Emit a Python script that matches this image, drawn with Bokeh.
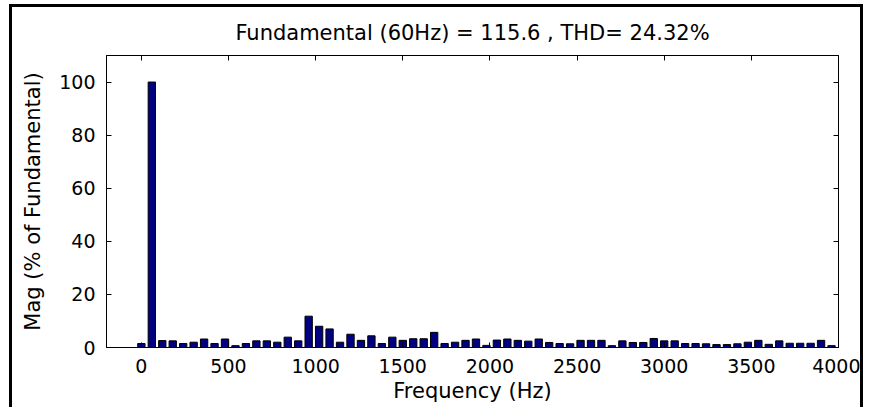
from bokeh.plotting import figure
from bokeh.models import LinearAxis, FixedTicker, Range1d
from bokeh.embed import file_html
from bokeh.resources import INLINE

# Harmonic frequencies (Hz) and magnitudes (% of fundamental)
freq_hz = [0, 60, 120, 180, 240, 300, 360, 420, 480, 540,
           600, 660, 720, 780, 840, 900, 960, 1020, 1080, 1140,
           1200, 1260, 1320, 1380, 1440, 1500, 1560, 1620, 1680, 1740,
           1800, 1860, 1920, 1980, 2040, 2100, 2160, 2220, 2280, 2340,
           2400, 2460, 2520, 2580, 2640, 2700, 2760, 2820, 2880, 2940,
           3000, 3060, 3120, 3180, 3240, 3300, 3360, 3420, 3480, 3540,
           3600, 3660, 3720, 3780, 3840, 3900, 3960]
mag_pct = [1.5, 100, 2.6, 2.5, 1.5, 2.0, 3.2, 1.5, 3.2, 0.7,
           1.5, 2.5, 2.5, 2.0, 3.9, 2.5, 11.8, 8.0, 7.0, 2.0,
           5.0, 2.7, 4.4, 1.5, 3.9, 2.7, 3.3, 3.3, 5.7, 1.5,
           2.0, 2.7, 3.2, 0.8, 2.8, 3.2, 2.7, 2.4, 3.2, 1.9,
           1.5, 1.4, 2.7, 2.7, 2.7, 0.7, 2.5, 1.9, 1.9, 3.4,
           2.5, 2.5, 1.5, 1.5, 1.4, 1.1, 1.1, 1.4, 2.0, 2.7,
           1.2, 2.5, 1.6, 1.6, 1.6, 2.7, 0.7]
x_ticks = [0, 500, 1000, 1500, 2000, 2500, 3000, 3500, 4000]
y_ticks = [0, 20, 40, 60, 80, 100]

title_text = "Fundamental (60Hz) = 115.6 , THD= 24.32%"
FONT = "DejaVu Sans"

p = figure(width=854, height=403, output_backend="svg", toolbar_location=None,
           x_range=Range1d(-200, 4000), y_range=Range1d(0, 110),
           min_border_left=94, min_border_right=28, min_border_top=47,
           min_border_bottom=63, title=title_text)
p.styles = {"margin-left": "9px", "margin-top": "4px", "margin-bottom": "-8px",
            "border-left": "3px solid black", "border-top": "3px solid black",
            "border-right": "3px solid black"}

p.vbar(x=freq_hz, top=mag_pct, bottom=0, width=42,
       fill_color="#000080", line_color="black", line_width=1)

p.grid.visible = False
p.outline_line_color = "black"
p.outline_line_width = 1
p.background_fill_color = "white"
p.border_fill_color = "white"

p.title.text_font = FONT
p.title.text_font_size = "21px"
p.title.text_font_style = "normal"
p.title.align = "center"
p.title.text_color = "black"
p.title.standoff = 22

def style_axis(ax, ticks, show_labels):
    ax.ticker = FixedTicker(ticks=ticks)
    ax.major_tick_in = 5
    ax.major_tick_out = 0
    ax.minor_tick_line_color = None
    ax.axis_line_color = "black"
    ax.major_tick_line_color = "black"
    ax.major_label_text_font = FONT
    if show_labels:
        ax.major_label_text_font_size = "19px"
        ax.major_label_text_color = "black"
    else:
        ax.major_label_text_font_size = "0px"
        ax.major_label_text_color = None
        ax.major_label_text_alpha = 0
        ax.major_label_standoff = 0

style_axis(p.xaxis[0], x_ticks, True)
style_axis(p.yaxis[0], y_ticks, True)
p.xaxis[0].major_label_standoff = 11
p.yaxis[0].major_label_standoff = 11
p.xaxis[0].axis_label = "Frequency (Hz)"
p.yaxis[0].axis_label = "Mag (% of Fundamental)"
for ax in (p.xaxis[0], p.yaxis[0]):
    ax.axis_label_text_font = FONT
    ax.axis_label_text_font_size = "21px"
    ax.axis_label_text_font_style = "normal"
    ax.axis_label_text_color = "black"
p.xaxis[0].axis_label_standoff = 3
p.yaxis[0].axis_label_standoff = 11

top_ax = LinearAxis()
style_axis(top_ax, x_ticks, False)
p.add_layout(top_ax, "above")
right_ax = LinearAxis()
style_axis(right_ax, y_ticks, False)
p.add_layout(right_ax, "right")

open("out.html", "w").write(file_html(p, INLINE))
